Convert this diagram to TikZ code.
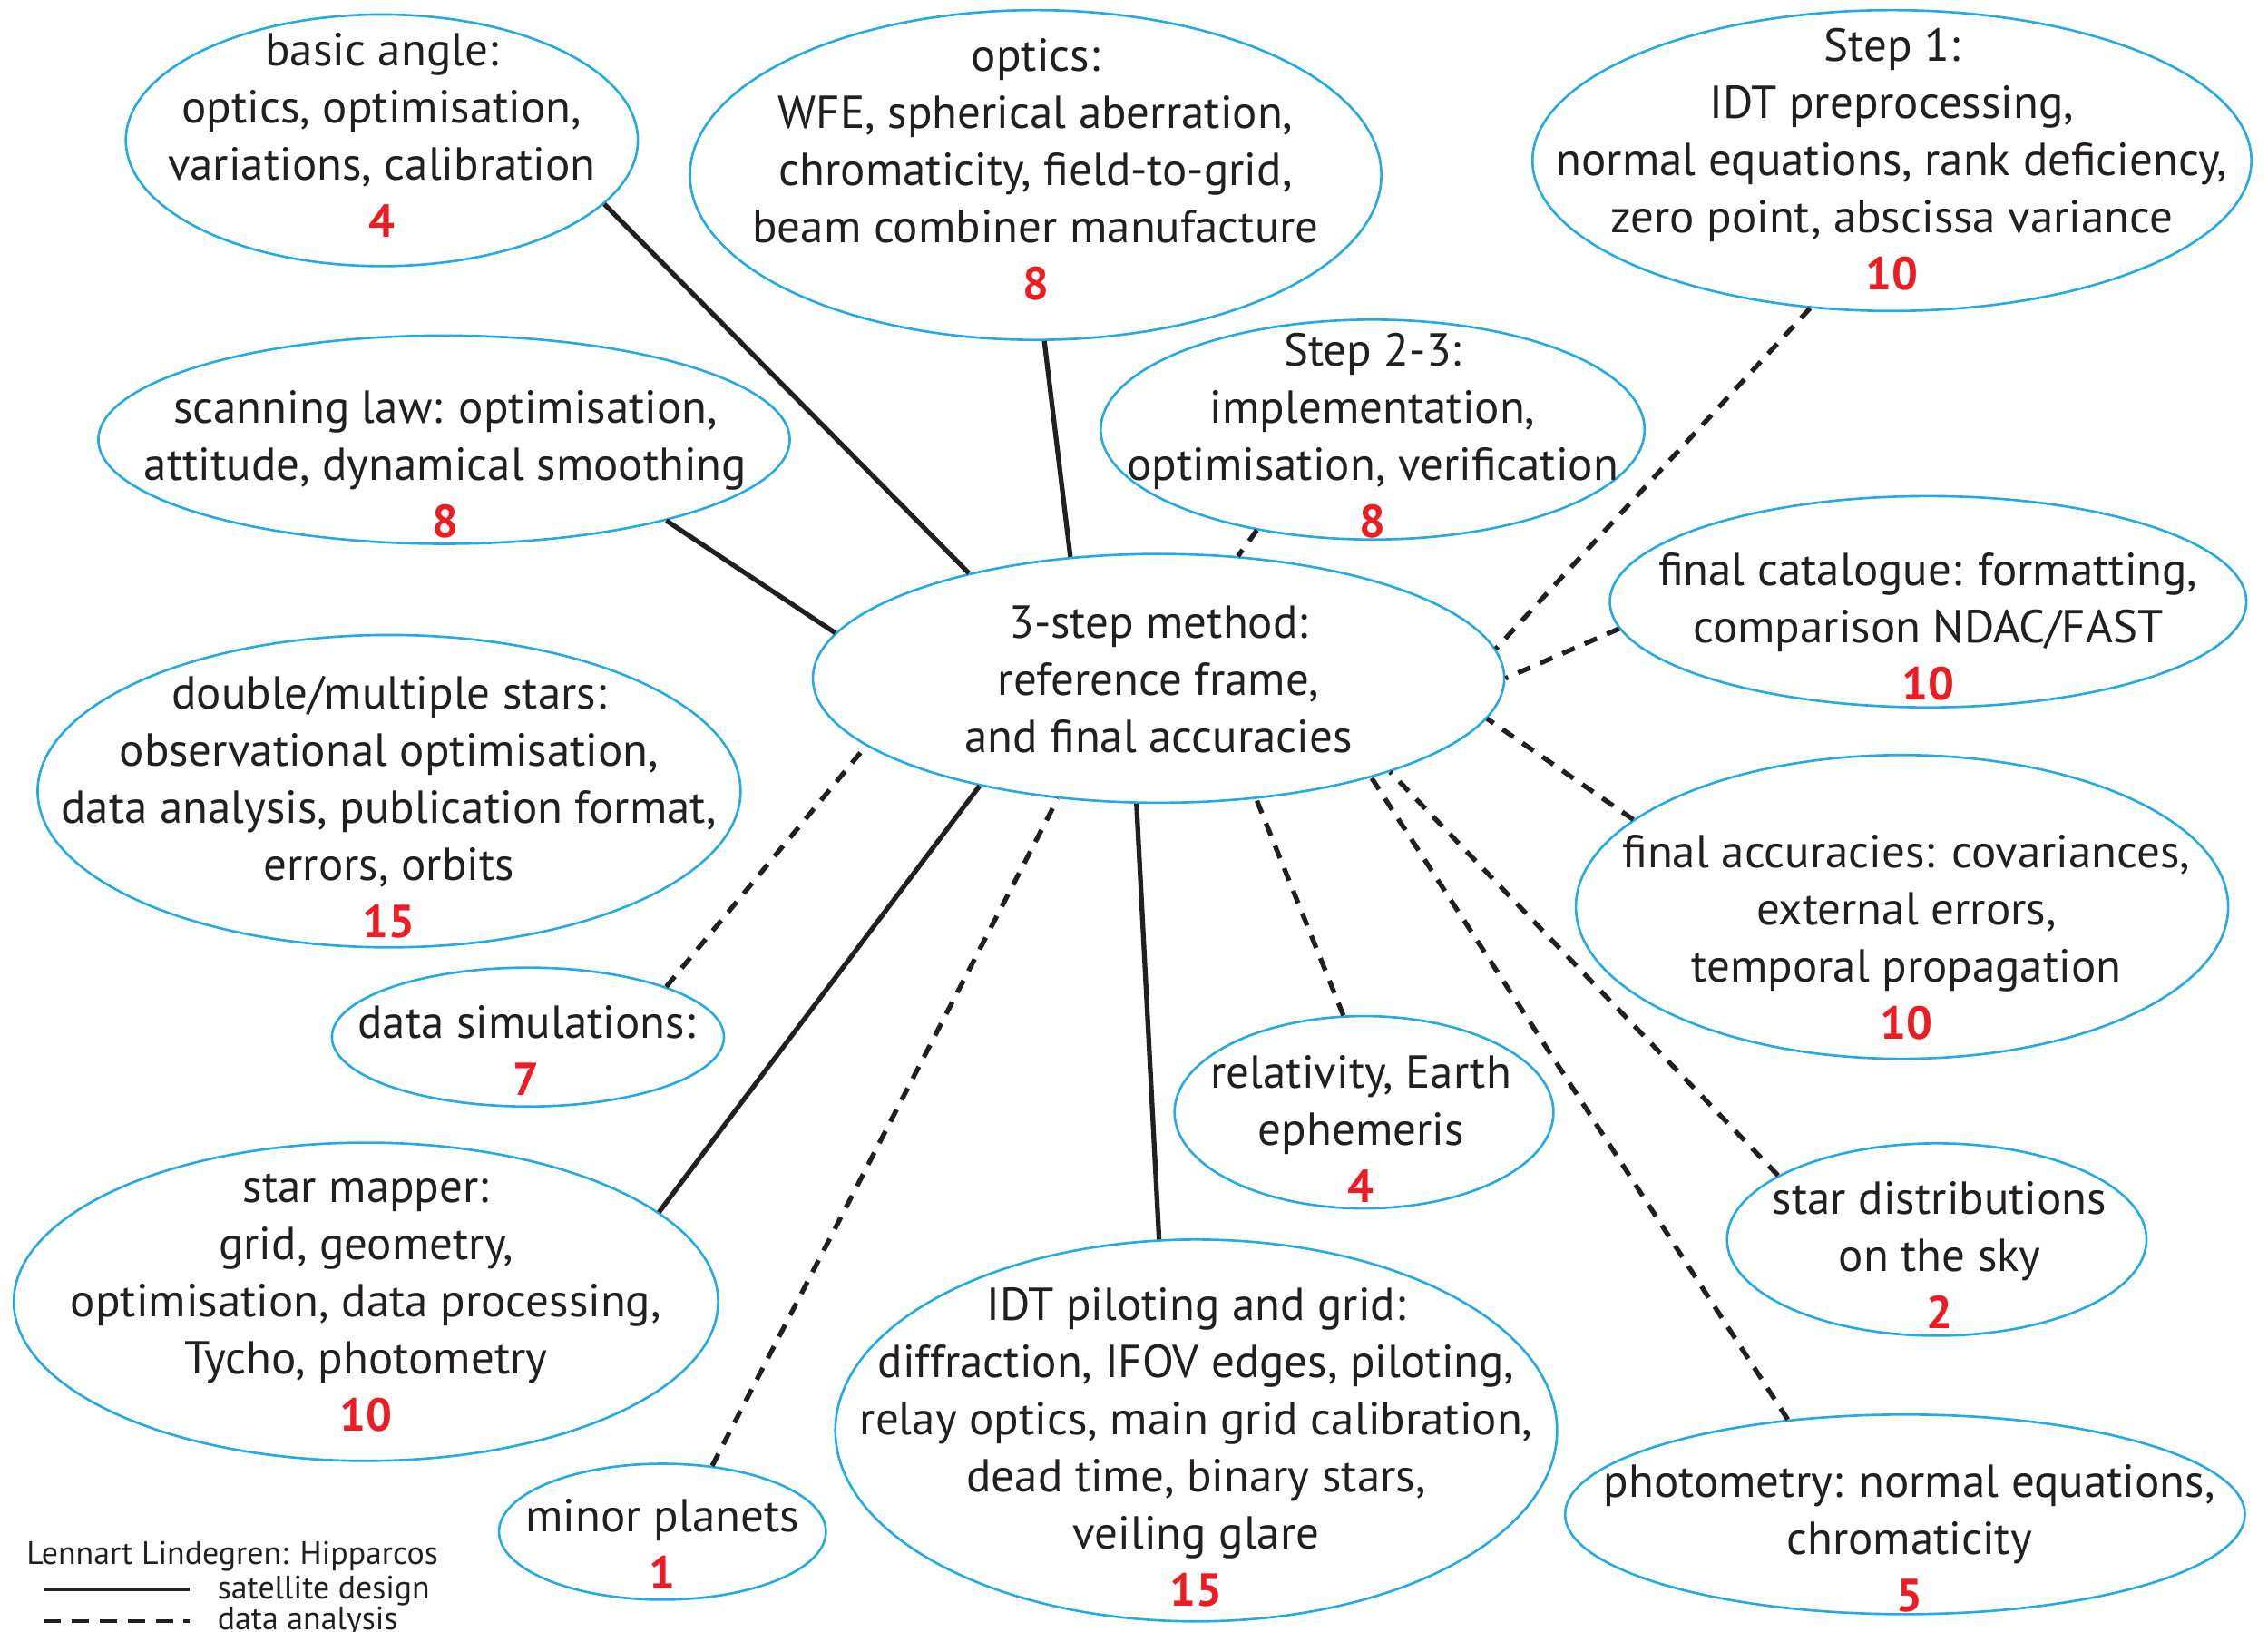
\documentclass[tikz,border=0pt]{standalone}
\usepackage{fontspec}
\setmainfont{PT Sans}
\usetikzlibrary{shapes.geometric}
\definecolor{ink}{HTML}{231F20}
\definecolor{rim}{HTML}{27AAE1}
\definecolor{tally}{HTML}{ED1C24}
\newlength{\pxu}\setlength{\pxu}{0.015944cm}
\newcommand{\tally}[1]{{\color{tally}\bfseries #1}}
\begin{document}
\begin{tikzpicture}[x=0.015944cm, y=-0.015944cm,
  bubble/.style={ellipse, draw=rim, line width=0.75pt, inner sep=0pt},
  wh/.style 2 args={minimum width=#1*\pxu, minimum height=#2*\pxu},
  topic/.style={text=ink, align=center, inner sep=0pt, font=\fontsize{14.5}{17.92}\selectfont},
  legendtext/.style={text=ink, inner sep=0pt, font=\fontsize{10.2}{11}\selectfont},
  design/.style={draw=ink, line width=1.5pt},
  analysis/.style={draw=ink, line width=1.5pt, dash pattern=on 4.2pt off 3.4pt},
  legendsolid/.style={draw=ink, line width=1.2pt},
  legenddash/.style={draw=ink, line width=1.2pt, dash pattern=on 5.4pt off 3.4pt},
]
\useasboundingbox (0,0) rectangle (1568,1128);

% outlines of the topic bubbles
\node[bubble, wh={354}{174}] (ba)  at (264,97)   {};
\node[bubble, wh={478}{228}] (op)  at (716,121)  {};
\node[bubble, wh={497}{208}] (s1)  at (1308,111) {};
\node[bubble, wh={478}{144}] (sl)  at (307,304)  {};
\node[bubble, wh={376}{152}] (s23) at (949,297)  {};
\node[bubble, wh={478}{172}] (cen) at (801,469)  {};
\node[bubble, wh={440}{146}] (fc)  at (1333,416) {};
\node[bubble, wh={486}{216}] (ds)  at (269,547)  {};
\node[bubble, wh={271}{96}]  (sim) at (365,717)  {};
\node[bubble, wh={451}{210}] (fa)  at (1315,627) {};
\node[bubble, wh={262}{133}] (rel) at (943,769)  {};
\node[bubble, wh={290}{133}] (sd)  at (1339,857) {};
\node[bubble, wh={487}{220}] (sm)  at (253,900)  {};
\node[bubble, wh={499}{264}] (idt) at (827,989)  {};
\node[bubble, wh={226}{94}]  (mp)  at (458,1059) {};
\node[bubble, wh={470}{138}] (ph)  at (1317,1047) {};

% topic texts
\node[topic] (ba-t)  at (264,93.5)  {basic angle:\\optics, optimisation,\\variations, calibration\\\tally{4}};
\node[topic] (op-t)  at (716,117)   {optics:\\WFE, spherical aberration,\\chromaticity, field-to-grid,\\beam combiner manufacture\\\tally{8}};
\node[topic] (s1-t)  at (1308,110)  {Step 1:\\IDT preprocessing,\\normal equations, rank deficiency,\\zero point, abscissa variance\\\tally{10}};
\node[topic] (sl-t)  at (308,321)   {scanning law: optimisation,\\attitude, dynamical smoothing\\\tally{8}};
\node[topic] (s23-t) at (949,301)   {Step 2-3:\\implementation,\\optimisation, verification\\\tally{8}};
\node[topic] (cen-t) at (801,469.5) {3-step method:\\reference frame,\\and final accuracies};
\node[topic] (fc-t)  at (1333,433.5) {final catalogue: formatting,\\comparison NDAC/FAST\\\tally{10}};
\node[topic] (ds-t)  at (269,558)   {double/multiple stars:\\observational optimisation,\\data analysis, publication format,\\errors, orbits\\\tally{15}};
\node[topic] (sim-t) at (364,726.5) {data simulations:\\\tally{7}};
\node[topic] (fa-t)  at (1318,648)  {final accuracies: covariances,\\external errors,\\temporal propagation\\\tally{10}};
\node[topic] (rel-t) at (941,780.5) {relativity, Earth\\ephemeris\\\tally{4}};
\node[topic] (sd-t)  at (1341,867.5) {star distributions\\on the sky\\\tally{2}};
\node[topic] (sm-t)  at (253,900.5) {star mapper:\\grid, geometry,\\optimisation, data processing,\\Tycho, photometry\\\tally{10}};
\node[topic] (idt-t) at (827,1000.5) {IDT piloting and grid:\\diffraction, IFOV edges, piloting,\\relay optics, main grid calibration,\\dead time, binary stars,\\veiling glare\\\tally{15}};
\node[topic] (mp-t)  at (458,1067.5) {minor planets\\\tally{1}};
\node[topic] (ph-t)  at (1320,1063.5) {photometry: normal equations,\\chromaticity\\\tally{5}};

% satellite-design links
\draw[design] (ba.-16.3)  -- (cen.151.7);
\draw[design] (op.-87.9)  -- (cen.126.2);
\draw[design] (sl.-20.8)  -- (cen.172.4);
\draw[design] (sm.17.2)   -- (cen.211.7);
\draw[design] (idt.101.1) -- (cen.260.5);

% data-analysis links
\draw[analysis] (s23.-139.6) -- (cen.57);
\draw[analysis] (s1.-119.9)  -- (cen.5.5);
\draw[analysis] (fc.-175.5)  -- (cen.0.2);
\draw[analysis] (fa.162)     -- (cen.-7.1);
\draw[analysis] (sim.20.3)   -- (cen.193.6);
\draw[analysis] (mp.53.7)    -- (cen.230.8);
\draw[analysis] (rel.102.6)  -- (cen.-51.1);
\draw[analysis] (sd.158.6)   -- (cen.-22.5);
\draw[analysis] (ph.141)     -- (cen.-25.4);

% legend
\node[legendtext, anchor=west] (credit) at (18,1076) {Lennart Lindegren: Hipparcos};
\coordinate (ls-a) at (30,1099);
\coordinate (ls-b) at (131,1099);
\draw[legendsolid] (ls-a) -- (ls-b);
\node[legendtext, anchor=west] (ls-t) at (150,1100) {satellite design};
\coordinate (ld-a) at (30,1121);
\coordinate (ld-b) at (131,1121);
\draw[legenddash] (ld-a) -- (ld-b);
\node[legendtext, anchor=west] (ld-t) at (150,1121) {data analysis};
\end{tikzpicture}
\end{document}
